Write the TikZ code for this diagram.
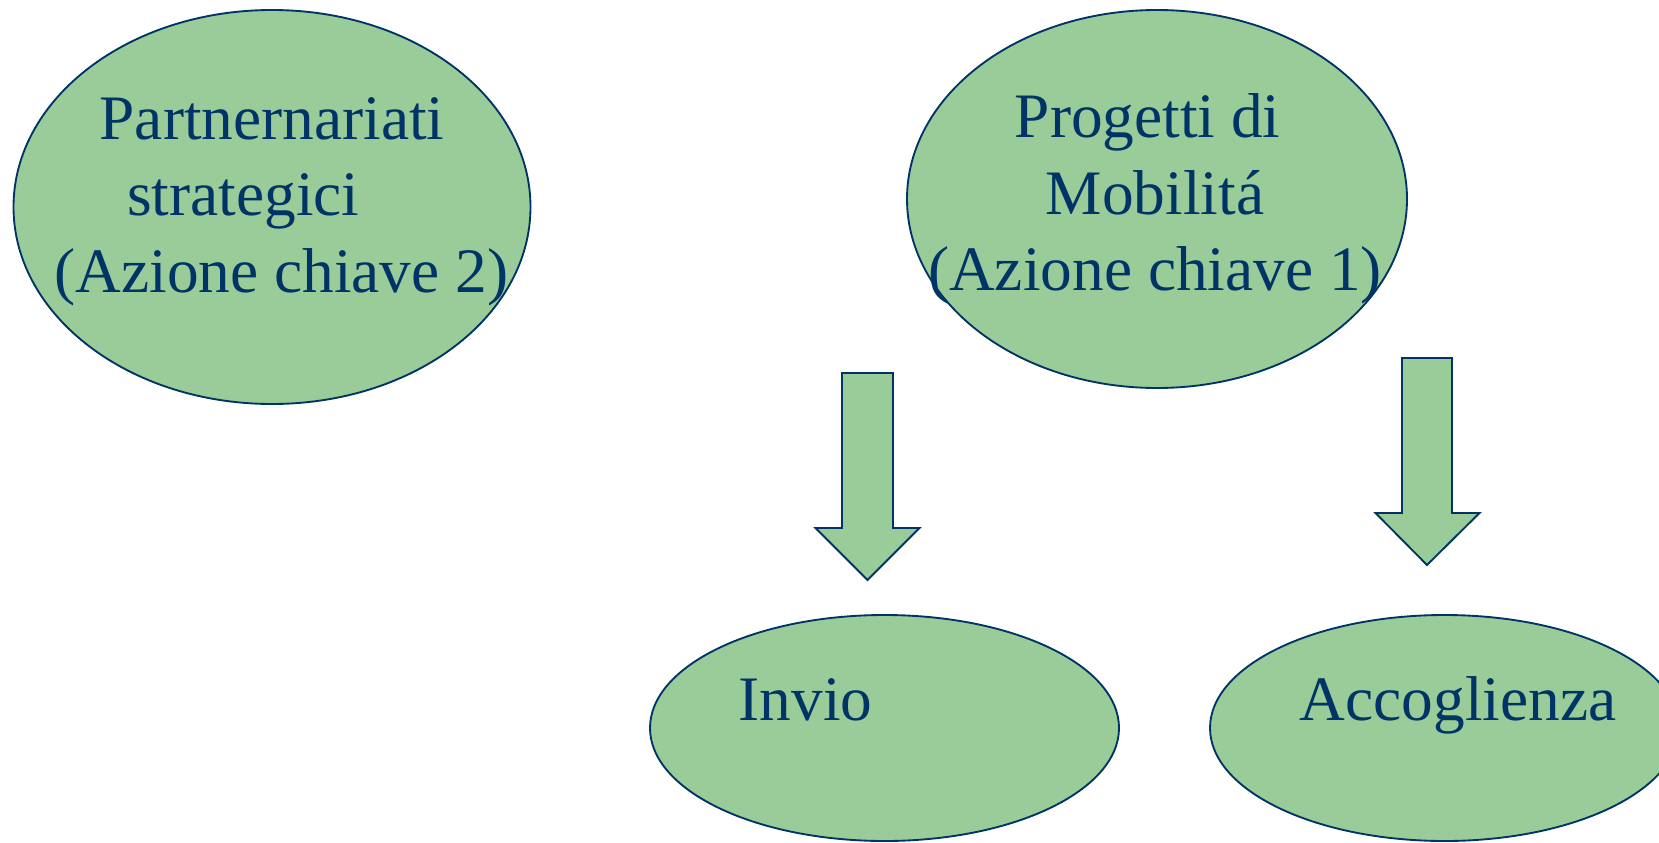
\documentclass[tikz,border=0pt]{standalone}
\usepackage{fontspec}
\setmainfont{Liberation Serif}
\usetikzlibrary{shapes.geometric}
\definecolor{leafgreen}{RGB}{153,204,153}
\definecolor{inkblue}{RGB}{0,51,102}
\begin{document}
\begin{tikzpicture}[x=0.75pt,y=0.75pt,yscale=-1,xscale=1,
        bubble/.style={ellipse,draw=inkblue,fill=leafgreen,line width=1.4pt,inner sep=0pt},
        blockarrow/.style={draw=inkblue,fill=leafgreen,line width=1.4pt,line join=miter},
        label/.style={text=inkblue,font=\fontsize{47.5}{57.4}\selectfont,inner sep=0pt}]
        \useasboundingbox (0,0) rectangle (1659,842);
        % ellipses
        \node [bubble,minimum width=387.75pt,minimum height=295.5pt] (partner) at (272,207) {};
        \node [bubble,minimum width=375pt,minimum height=283.5pt] (mobility) at (1157,199) {};
        \node [bubble,minimum width=351.75pt,minimum height=169.5pt] (invio) at (884.5,728) {};
        \node [bubble,minimum width=351.75pt,minimum height=169.5pt] (accoglienza) at (1444.5,728) {};
        % block arrows
        \draw [blockarrow] (842,373) -- (893,373) -- (893,528) -- (919.5,528) -- (867.5,580) -- (815.5,528) -- (842,528) -- cycle ;
        \draw [blockarrow] (1402,358) -- (1452,358) -- (1452,513) -- (1479.5,513) -- (1427,565) -- (1375.5,513) -- (1402,513) -- cycle ;
        % texts
        \node [label,align=center] (partnertext) at (272,201.5) {Partnernariati\\strategici\hspace*{43pt}\mbox{}\\\hspace*{14pt}(Azione chiave 2)};
        \node [label,align=center] (mobilitytext) at (1155,199) {Progetti di\hspace*{11pt}\mbox{}\\Mobilitá\\(Azione chiave 1)};
        \node [label,anchor=base] (inviotext) at (805.5,720) {Invio};
        \node [label,anchor=base] (accoglienzatext) at (1458,720) {Accoglienza};
    \end{tikzpicture}
\end{document}
